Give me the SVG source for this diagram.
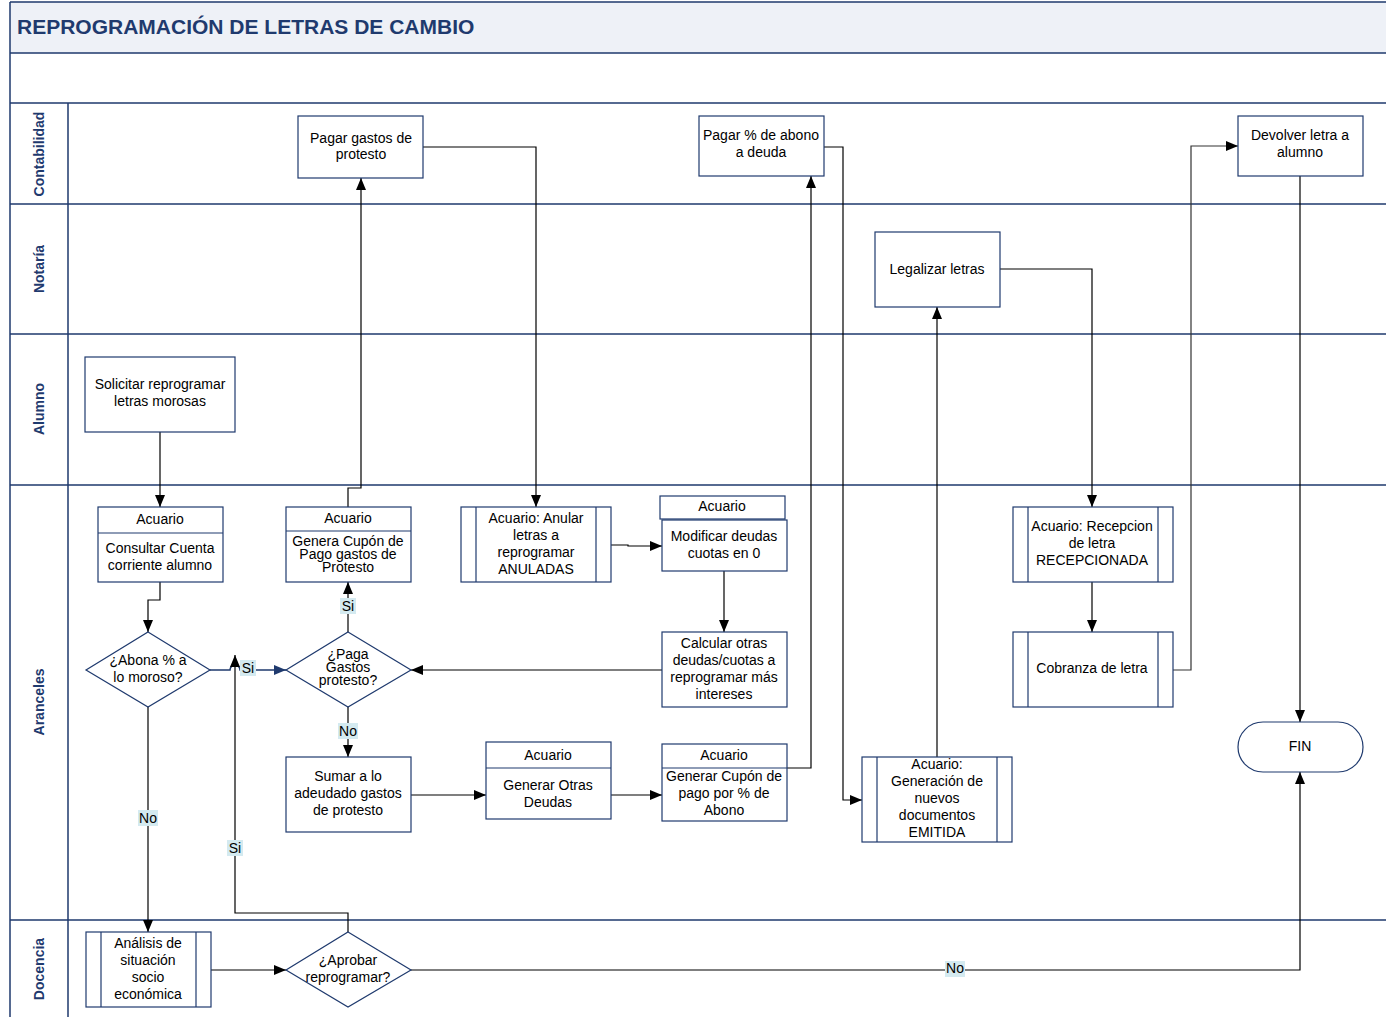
<svg xmlns="http://www.w3.org/2000/svg" width="1386" height="1017" viewBox="0 0 1386 1017">
<style>
.lane{fill:none;stroke:#1f3a6e;stroke-width:1.5}
.lt{font-family:"Liberation Sans",Arial,sans-serif;font-size:14px;font-weight:bold;fill:#1f3a6e;text-anchor:middle}
.n{fill:#fff;stroke:#1f3a6e;stroke-width:1.2}
.t{font-family:"Liberation Sans",Arial,sans-serif;font-size:14px;fill:#000;text-anchor:middle}
.c{fill:none;stroke:#000;stroke-width:1.2}
.lb{fill:#d4eaf0}
</style>
<defs>
<marker id="ah" viewBox="0 0 12 10" refX="12" refY="5" markerWidth="12" markerHeight="10" markerUnits="userSpaceOnUse" orient="auto"><path d="M0,0 L12,5 L0,10 z" fill="#000"/></marker>
<marker id="ahb" viewBox="0 0 12 10" refX="12" refY="5" markerWidth="12" markerHeight="10" markerUnits="userSpaceOnUse" orient="auto"><path d="M0,0 L12,5 L0,10 z" fill="#1f3a6e"/></marker>
</defs>
<rect x="0" y="0" width="1386" height="1017" fill="#fff"/>
<g id="pool">
<rect x="10" y="2" width="1380" height="51" fill="#eef1f7"/>
<path class="lane" d="M10,2 H1390 M10,53 H1390 M10,103 H1390 M10,204 H1390 M10,334 H1390 M10,485 H1390 M10,920 H1390 M10,2 V1020 M68,103 V1020"/>
<text x="17" y="34" font-family="Liberation Sans,Arial,sans-serif" font-size="21" font-weight="bold" fill="#1f3a6e">REPROGRAMACIÓN DE LETRAS DE CAMBIO</text>
<text class="lt" transform="translate(44,154) rotate(-90)">Contabilidad</text>
<text class="lt" transform="translate(44,269) rotate(-90)">Notaría</text>
<text class="lt" transform="translate(44,409) rotate(-90)">Alumno</text>
<text class="lt" transform="translate(44,702) rotate(-90)">Aranceles</text>
<text class="lt" transform="translate(44,969) rotate(-90)">Docencia</text>
</g>
<g id="connectors">
<path class="c" d="M160,432 V507" marker-end="url(#ah)"/>
<path class="c" d="M160,582 V600 H148 V632" marker-end="url(#ah)"/>
<path d="M210,670 H230 A5,5 0 0 1 240,670 H286" fill="none" stroke="#1f3a6e" stroke-width="1.5" marker-end="url(#ahb)"/>
<path class="c" d="M148,707 V932" marker-end="url(#ah)"/>
<path class="c" d="M211,970 H286" marker-end="url(#ah)"/>
<path class="c" d="M348,932 V913 H235 V655" marker-end="url(#ah)"/>
<path class="c" d="M411,970 H1300 V772" marker-end="url(#ah)"/>
<path class="c" d="M348,632 V582" marker-end="url(#ah)"/>
<path class="c" d="M348,707 V757" marker-end="url(#ah)"/>
<path class="c" d="M348,507 V488 H361 V178" marker-end="url(#ah)"/>
<path class="c" d="M423,147 H536 V507" marker-end="url(#ah)"/>
<path class="c" d="M611,545 H628 V546 H662" marker-end="url(#ah)"/>
<path class="c" d="M724,571 V632" marker-end="url(#ah)"/>
<path d="M662,670 H411" fill="none" stroke="#555" stroke-width="1.5" marker-end="url(#ah)"/>
<path class="c" d="M411,795 H486" marker-end="url(#ah)"/>
<path class="c" d="M611,795 H662" marker-end="url(#ah)"/>
<path class="c" d="M787,768 H811 V176" marker-end="url(#ah)"/>
<path class="c" d="M824,147 H843 V800 H862" marker-end="url(#ah)"/>
<path class="c" d="M937,757 V307" marker-end="url(#ah)"/>
<path class="c" d="M1000,269 H1092 V507" marker-end="url(#ah)"/>
<path class="c" d="M1092,582 V632" marker-end="url(#ah)"/>
<path d="M1173,670 H1191 V146 H1238" fill="none" stroke="#333" stroke-width="1.2" marker-end="url(#ah)"/>
<path class="c" d="M1300,176 V722" marker-end="url(#ah)"/>
<rect class="lb" x="240" y="660" width="16" height="16"/><text class="t" x="248" y="673">Si</text>
<rect class="lb" x="138" y="810" width="20" height="16"/><text class="t" x="148" y="823">No</text>
<rect class="lb" x="227" y="840" width="16" height="16"/><text class="t" x="235" y="853">Si</text>
<rect class="lb" x="340" y="598" width="16" height="16"/><text class="t" x="348" y="611">Si</text>
<rect class="lb" x="338" y="723" width="20" height="16"/><text class="t" x="348" y="736">No</text>
<rect class="lb" x="945" y="961" width="20" height="16"/><text class="t" x="955" y="973">No</text>
</g>
<g id="n-pagar-gastos"><rect class="n" x="298" y="116" width="125" height="62"/><text class="t" x="361" y="143">Pagar gastos de</text><text class="t" x="361" y="159">protesto</text></g>
<g id="n-pagar-abono"><rect class="n" x="699" y="116" width="125" height="60"/><text class="t" x="761" y="140">Pagar % de abono</text><text class="t" x="761" y="157">a deuda</text></g>
<g id="n-devolver"><rect class="n" x="1238" y="116" width="125" height="60"/><text class="t" x="1300" y="140">Devolver letra a</text><text class="t" x="1300" y="157">alumno</text></g>
<g id="n-legalizar"><rect class="n" x="875" y="232" width="125" height="75"/><text class="t" x="937" y="274">Legalizar letras</text></g>
<g id="n-solicitar"><rect class="n" x="85" y="357" width="150" height="75"/><text class="t" x="160" y="389">Solicitar reprogramar</text><text class="t" x="160" y="406">letras morosas</text></g>
<g id="n-consultar"><rect class="n" x="98" y="507" width="125" height="75"/><line class="n" x1="98" y1="533" x2="223" y2="533"/><text class="t" x="160" y="524">Acuario</text><text class="t" x="160" y="553">Consultar Cuenta</text><text class="t" x="160" y="570">corriente alumno</text></g>
<g id="n-genera-cupon"><rect class="n" x="286" y="507" width="125" height="75"/><line class="n" x1="286" y1="531" x2="411" y2="531"/><text class="t" x="348" y="523">Acuario</text><text class="t" x="348" y="546">Genera Cupón de</text><text class="t" x="348" y="559">Pago gastos de</text><text class="t" x="348" y="572">Protesto</text></g>
<g id="n-anular"><rect class="n" x="461" y="507" width="150" height="75"/><line class="n" x1="476" y1="507" x2="476" y2="582"/><line class="n" x1="596" y1="507" x2="596" y2="582"/><text class="t" x="536" y="523">Acuario: Anular</text><text class="t" x="536" y="540">letras a</text><text class="t" x="536" y="557">reprogramar</text><text class="t" x="536" y="574">ANULADAS</text></g>
<g id="n-modificar"><rect class="n" x="660" y="496" width="125" height="23"/><rect class="n" x="662" y="520" width="125" height="51"/><text class="t" x="722" y="511">Acuario</text><text class="t" x="724" y="541">Modificar deudas</text><text class="t" x="724" y="558">cuotas en 0</text></g>
<g id="n-calcular"><rect class="n" x="662" y="632" width="125" height="75"/><text class="t" x="724" y="648">Calcular otras</text><text class="t" x="724" y="665">deudas/cuotas a</text><text class="t" x="724" y="682">reprogramar más</text><text class="t" x="724" y="699">intereses</text></g>
<g id="n-abona"><path class="n" d="M148,632 L210,670 L148,707 L86,670 z"/><text class="t" x="148" y="665">¿Abona % a</text><text class="t" x="148" y="682">lo moroso?</text></g>
<g id="n-paga"><path class="n" d="M348,632 L411,670 L348,707 L286,670 z"/><text class="t" x="348" y="659">¿Paga</text><text class="t" x="348" y="672">Gastos</text><text class="t" x="348" y="685">protesto?</text></g>
<g id="n-sumar"><rect class="n" x="286" y="757" width="125" height="75"/><text class="t" x="348" y="781">Sumar a lo</text><text class="t" x="348" y="798">adeudado gastos</text><text class="t" x="348" y="815">de protesto</text></g>
<g id="n-otras"><rect class="n" x="486" y="742" width="125" height="77"/><line class="n" x1="486" y1="768" x2="611" y2="768"/><text class="t" x="548" y="760">Acuario</text><text class="t" x="548" y="790">Generar Otras</text><text class="t" x="548" y="807">Deudas</text></g>
<g id="n-cupon-abono"><rect class="n" x="662" y="744" width="125" height="77"/><line class="n" x1="662" y1="768" x2="787" y2="768"/><text class="t" x="724" y="760">Acuario</text><text class="t" x="724" y="781">Generar Cupón de</text><text class="t" x="724" y="798">pago por % de</text><text class="t" x="724" y="815">Abono</text></g>
<g id="n-generacion"><rect class="n" x="862" y="757" width="150" height="85"/><line class="n" x1="877" y1="757" x2="877" y2="842"/><line class="n" x1="997" y1="757" x2="997" y2="842"/><text class="t" x="937" y="769">Acuario:</text><text class="t" x="937" y="786">Generación de</text><text class="t" x="937" y="803">nuevos</text><text class="t" x="937" y="820">documentos</text><text class="t" x="937" y="837">EMITIDA</text></g>
<g id="n-recepcion"><rect class="n" x="1013" y="507" width="160" height="75"/><line class="n" x1="1028" y1="507" x2="1028" y2="582"/><line class="n" x1="1158" y1="507" x2="1158" y2="582"/><text class="t" x="1092" y="531">Acuario: Recepcion</text><text class="t" x="1092" y="548">de letra</text><text class="t" x="1092" y="565">RECEPCIONADA</text></g>
<g id="n-cobranza"><rect class="n" x="1013" y="632" width="160" height="75"/><line class="n" x1="1028" y1="632" x2="1028" y2="707"/><line class="n" x1="1158" y1="632" x2="1158" y2="707"/><text class="t" x="1092" y="673">Cobranza de letra</text></g>
<g id="n-fin"><rect class="n" x="1238" y="722" width="125" height="50" rx="25"/><text class="t" x="1300" y="751">FIN</text></g>
<g id="n-analisis"><rect class="n" x="86" y="932" width="125" height="75"/><line class="n" x1="101" y1="932" x2="101" y2="1007"/><line class="n" x1="196" y1="932" x2="196" y2="1007"/><text class="t" x="148" y="948">Análisis de</text><text class="t" x="148" y="965">situación</text><text class="t" x="148" y="982">socio</text><text class="t" x="148" y="999">económica</text></g>
<g id="n-aprobar"><path class="n" d="M348,932 L411,970 L348,1007 L286,970 z"/><text class="t" x="348" y="965">¿Aprobar</text><text class="t" x="348" y="982">reprogramar?</text></g>
</svg>
